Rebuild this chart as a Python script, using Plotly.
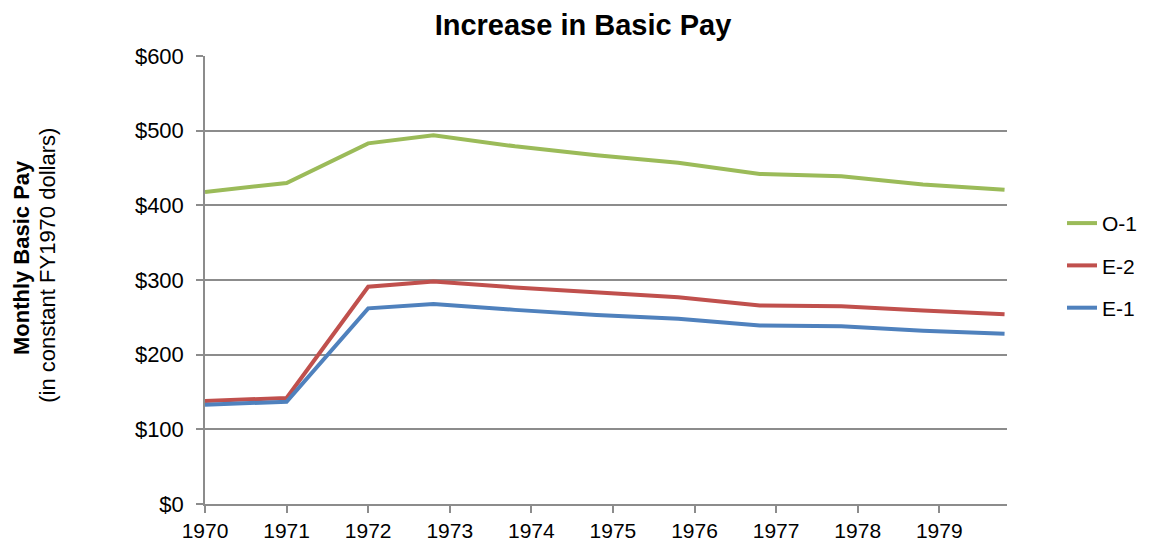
import plotly.graph_objects as go

years = [1970, 1971, 1972, 1972.8, 1973.8, 1974.8, 1975.8, 1976.8, 1977.8, 1978.8, 1979.8]
o1 = [418, 430, 483, 494, 479, 467, 457, 442, 439, 428, 421]
e2 = [138, 142, 291, 298, 290, 283, 277, 266, 265, 259, 254]
e1 = [133, 137, 262, 268, 260, 253, 248, 239, 238, 232, 228]
tick_years = [1970, 1971, 1972, 1973, 1974, 1975, 1976, 1977, 1978, 1979]

series = [("O-1", o1, "#9BBB59"), ("E-2", e2, "#C0504D"), ("E-1", e1, "#4F81BD")]

FONT = "Liberation Sans, Arial, sans-serif"
GRAY = "#8c8c8c"

fig = go.Figure()
for name, vals, color in series:
    fig.add_trace(go.Scatter(
        x=years, y=vals, mode="lines", name=name, legendgroup=name,
        line=dict(color=color, width=4),
    ))

fig.update_layout(
    width=1142, height=538,
    margin=dict(l=197, r=143, t=48, b=42, autoexpand=False),
    paper_bgcolor="white", plot_bgcolor="white",
    font=dict(family=FONT, color="black", size=21),
    title=dict(text="<b>Increase in Basic Pay</b>", x=0.5035, xanchor="center",
               y=0.968, yanchor="middle", font=dict(size=29, family=FONT)),
    showlegend=True,
    legend=dict(x=1.0686, xanchor="left", y=0.672, yanchor="top",
                font=dict(size=21, family=FONT), tracegroupgap=12,
                bgcolor="rgba(0,0,0,0)"),
    xaxis=dict(range=[1970, 1979.83], tickvals=tick_years, ticktext=[str(t) for t in tick_years],
               showgrid=False, showline=True, linecolor=GRAY, linewidth=1.5,
               ticks="outside", ticklen=7, tickcolor=GRAY, tickwidth=1.5,
               zeroline=False, automargin=False, tickfont=dict(size=21, family=FONT)),
    yaxis=dict(range=[0, 600], dtick=100, tickprefix="$",
               showgrid=True, gridcolor=GRAY, gridwidth=1.5,
               showline=True, linecolor=GRAY, linewidth=1.5,
               ticks="outside", ticklen=7, tickcolor=GRAY, tickwidth=1.5,
               ticklabelstandoff=8,
               zeroline=False, automargin=False, tickfont=dict(size=22, family=FONT)),
)

fig.add_annotation(text="<b>Monthly Basic Pay</b>", xref="paper", yref="paper",
                   x=-0.2294, y=0.549, textangle=-90, showarrow=False,
                   font=dict(size=22, family=FONT), xanchor="center", yanchor="middle")
fig.add_annotation(text="(in constant FY1970 dollars)", xref="paper", yref="paper",
                   x=-0.1960, y=0.5335, textangle=-90, showarrow=False,
                   font=dict(size=22, family=FONT), xanchor="center", yanchor="middle")

fig.write_html("out.html")
